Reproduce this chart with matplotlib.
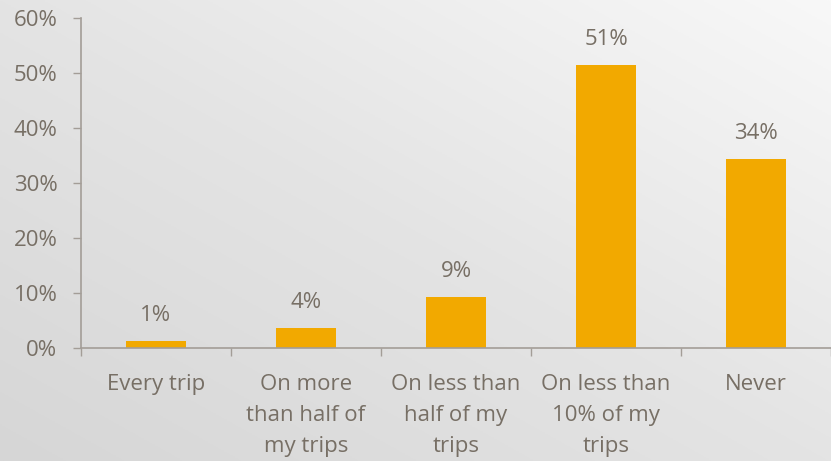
import matplotlib.pyplot as plt
import numpy as np
from matplotlib.colors import LinearSegmentedColormap

# Survey answers and shares (%)
categories = ['Every trip', 'On more\nthan half of\nmy trips', 'On less than\nhalf of my\ntrips',
              'On less than\n10% of my\ntrips', 'Never']
shares = [1.3, 3.6, 9.3, 51.4, 34.4]
y_ticks = [0, 10, 20, 30, 40, 50, 60]

bar_color = '#f2a900'
text_color = '#776f65'
axis_color = '#a39d97'

plt.rcParams['font.family'] = ['Open Sans', 'DejaVu Sans']

fig = plt.figure(figsize=(8.31, 4.61), dpi=100)

# soft diagonal gradient behind everything (light top-right, darker bottom-left)
bg = fig.add_axes([0, 0, 1, 1], zorder=0)
gx, gy = np.meshgrid(np.linspace(0, 1, 300), np.linspace(1, 0, 300))
grad = np.clip((gx + gy) / 2, 0, 1)
bg_cmap = LinearSegmentedColormap.from_list('bg', ['#d6d6d6', '#e4e4e4', '#f8f8f8'])
bg.imshow(grad, cmap=bg_cmap, vmin=0, vmax=1, aspect='auto', extent=[0, 1, 0, 1], origin='upper')
bg.axis('off')

ax = fig.add_axes([81 / 831, 113 / 461, 750 / 831, 330 / 461], zorder=1)
ax.patch.set_alpha(0)

x = np.arange(len(categories))
bars = ax.bar(x, shares, width=0.4, color=bar_color)
for xi, v in zip(x, shares):
    ax.annotate(f'{v:.0f}%', (xi, v), xytext=(0, 11), textcoords='offset points',
                ha='center', va='bottom', fontsize=16, color=text_color)

ax.set_xlim(-0.5, len(categories) - 0.5)
ax.set_ylim(0, 60)
ax.set_yticks(y_ticks)
ax.set_yticklabels([f'{t}%' for t in y_ticks])

# boundary ticks between categories, labels at the centres
ax.set_xticks(np.arange(-0.5, len(categories)), [''] * (len(categories) + 1))
ax.set_xticks(x, categories, minor=True)
ax.tick_params(axis='x', which='major', length=6, width=1, color=axis_color, direction='out')
ax.tick_params(axis='x', which='minor', length=0, pad=19, labelsize=16, labelcolor=text_color)
ax.tick_params(axis='y', length=6, width=1, color=axis_color, labelsize=16, labelcolor=text_color, pad=11)
for lbl in ax.get_xticklabels(minor=True):
    lbl.set_linespacing(1.62)

for side in ['top', 'right']:
    ax.spines[side].set_visible(False)
for side in ['left', 'bottom']:
    ax.spines[side].set_color(axis_color)
    ax.spines[side].set_linewidth(1.2)
ax.spines['bottom'].set_clip_on(False)

fig.savefig('out.png', dpi=100)
